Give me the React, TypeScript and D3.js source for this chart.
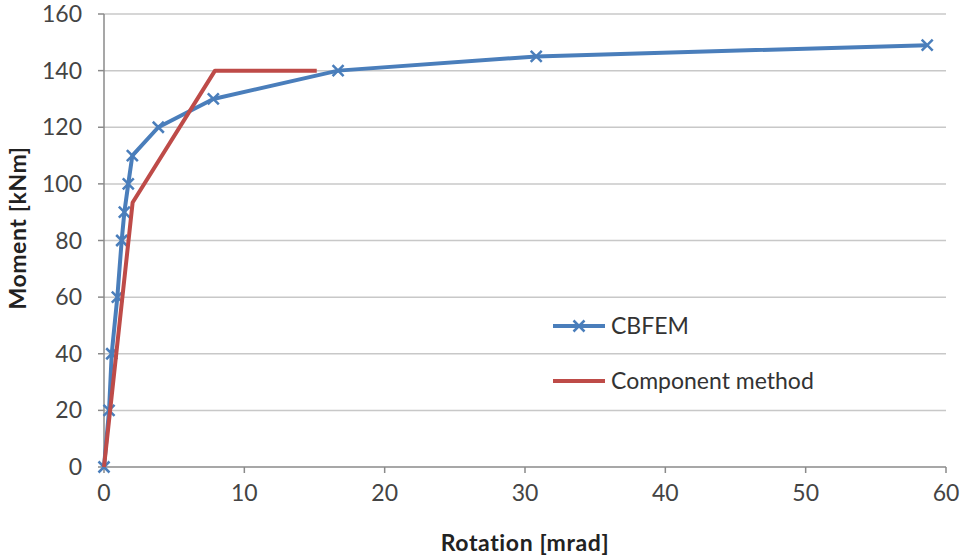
import * as d3 from 'd3';

// CBFEM curve (rotation mrad, moment kNm)
const cbfemRot = [0, 0.36, 0.55, 0.95, 1.26, 1.45, 1.73, 2.02, 3.87, 7.79, 16.68, 30.8, 58.66];
const cbfemMom = [0, 20, 40, 60, 80, 90, 100, 110, 120, 130, 140, 145, 149];

// Component method
const compRot = [0, 2.04, 7.91, 15.16];
const compMom = [0, 93.4, 140, 140];

const xTicks = [0, 10, 20, 30, 40, 50, 60];
const yTicks = [0, 20, 40, 60, 80, 100, 120, 140, 160];

const BLUE = '#4a7ebb';
const RED = '#be4b48';
const FONT = 'Lato, "Open Sans", sans-serif';

export default function App() {
  const W = 965, H = 556;
  const x = d3.scaleLinear().domain([0, 60]).range([104, 946]);
  const y = d3.scaleLinear().domain([0, 160]).range([467, 14]);

  const line = d3.line<[number, number]>().x(d => x(d[0])).y(d => y(d[1]));
  const cbfem: [number, number][] = cbfemRot.map((r, i) => [r, cbfemMom[i]]);
  const comp: [number, number][] = compRot.map((r, i) => [r, compMom[i]]);

  const mk = (cx: number, cy: number, s = 5.5) =>
    `M${cx - s},${cy - s}L${cx + s},${cy + s}M${cx - s},${cy + s}L${cx + s},${cy - s}`;

  return (
    <svg width={W} height={H} style={{ position: 'absolute', left: 0, top: 0, background: '#fff' }}>
      {/* gridlines */}
      {yTicks.filter(t => t > 0).map(t => (
        <line key={t} x1={x(0)} x2={x(60)} y1={y(t)} y2={y(t)} stroke="#c8c8c8" strokeWidth={1.5} />
      ))}
      {/* axes */}
      <line x1={x(0)} x2={x(0)} y1={y(0)} y2={y(160)} stroke="#8a8a8a" strokeWidth={1.5} />
      <line x1={x(0)} x2={x(60)} y1={y(0)} y2={y(0)} stroke="#8a8a8a" strokeWidth={1.5} />
      {yTicks.map(t => (
        <g key={t}>
          <line x1={x(0) - 6} x2={x(0)} y1={y(t)} y2={y(t)} stroke="#8a8a8a" strokeWidth={1.5} />
          <text x={82} y={y(t) + 8} textAnchor="end" fontFamily={FONT} fontSize={23} fill="#444">{t}</text>
        </g>
      ))}
      {xTicks.map(t => (
        <g key={t}>
          <line x1={x(t)} x2={x(t)} y1={y(0)} y2={y(0) + 6} stroke="#8a8a8a" strokeWidth={1.5} />
          <text x={x(t)} y={501} textAnchor="middle" fontFamily={FONT} fontSize={23} fill="#444">{t}</text>
        </g>
      ))}
      {/* axis titles */}
      <text x={525} y={551} textAnchor="middle" fontFamily={FONT} fontWeight="bold" fontSize={23} letterSpacing={0.6} fill="#222">Rotation [mrad]</text>
      <text transform={`translate(26,228) rotate(-90)`} textAnchor="middle" fontFamily={FONT} fontWeight="bold" fontSize={23} letterSpacing={0.6} fill="#222">Moment [kNm]</text>

      {/* series */}
      <path d={line(cbfem) || ''} fill="none" stroke={BLUE} strokeWidth={4} strokeLinejoin="round" />
      {cbfem.map((d, i) => (
        <path key={i} d={mk(x(d[0]), y(d[1]))} stroke={BLUE} strokeWidth={2.5} fill="none" />
      ))}
      <path d={line(comp) || ''} fill="none" stroke={RED} strokeWidth={4} strokeLinejoin="round" />

      {/* legend */}
      <line x1={553} x2={605} y1={326} y2={326} stroke={BLUE} strokeWidth={4} />
      <path d={mk(579, 326)} stroke={BLUE} strokeWidth={2.5} fill="none" />
      <text x={611} y={334} fontFamily={FONT} fontSize={23} fill="#333">CBFEM</text>
      <line x1={553} x2={605} y1={381} y2={381} stroke={RED} strokeWidth={4} />
      <text x={611} y={389} fontFamily={FONT} fontSize={23} fill="#333">Component method</text>
    </svg>
  );
}
